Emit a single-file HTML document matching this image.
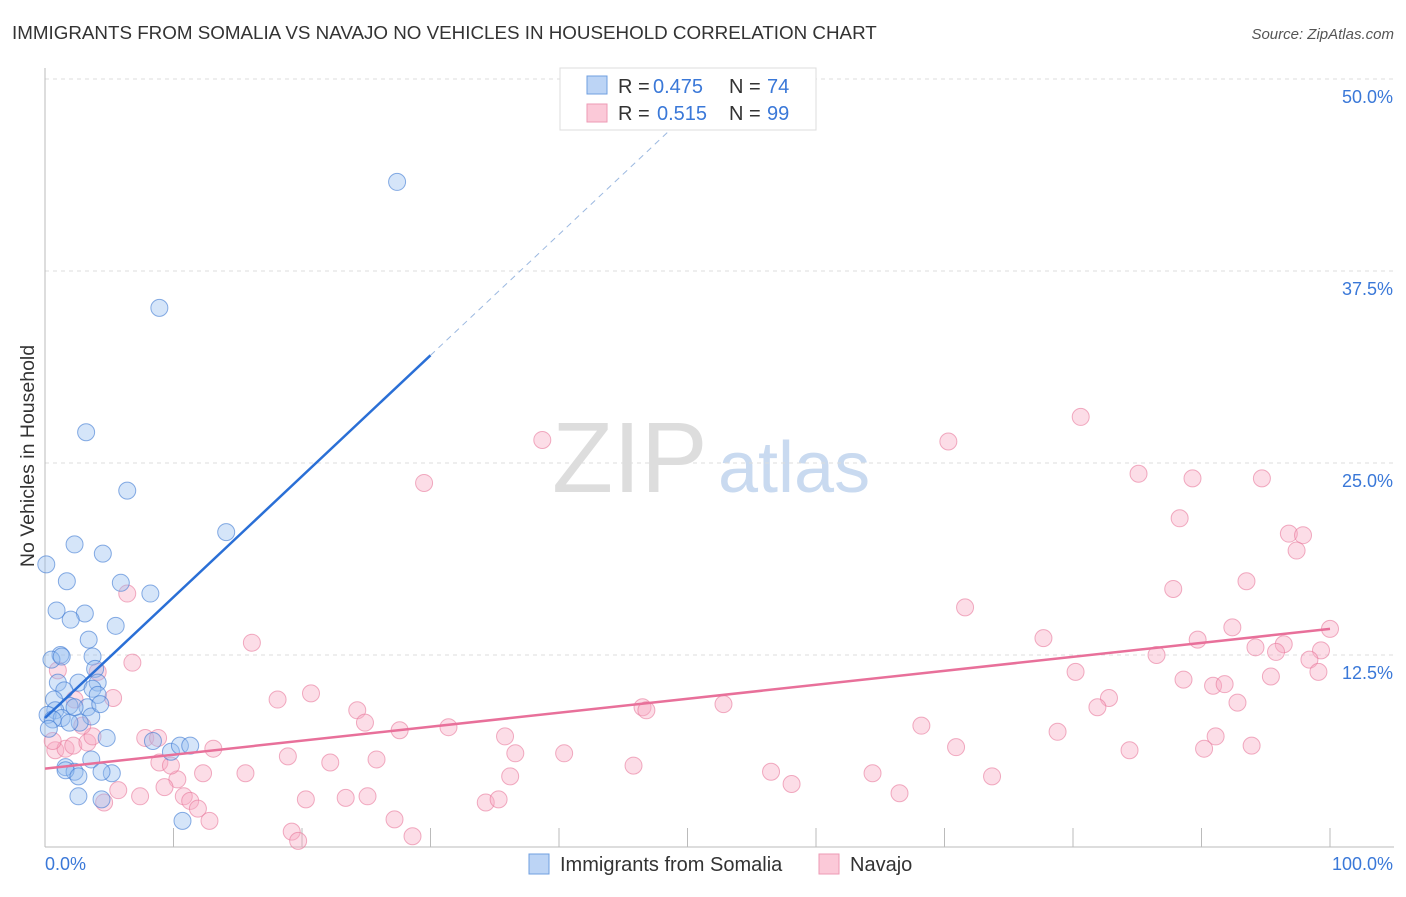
<!DOCTYPE html>
<html><head><meta charset="utf-8"><style>
body{margin:0;background:#fff;font-family:"Liberation Sans",sans-serif;}
svg text{font-family:"Liberation Sans",sans-serif;}
</style></head><body>
<svg id="c" width="1406" height="892" xmlns="http://www.w3.org/2000/svg">
<text x="12" y="39" font-size="18.8" fill="#333">IMMIGRANTS FROM SOMALIA VS NAVAJO NO VEHICLES IN HOUSEHOLD CORRELATION CHART</text>
<text x="1394" y="39" font-size="15" fill="#555" text-anchor="end" font-style="italic">Source: ZipAtlas.com</text>
<text x="34" y="456" font-size="19.5" fill="#333" text-anchor="middle" transform="rotate(-90 34 456)">No Vehicles in Household</text>
<g><text x="552" y="492" font-size="100" fill="#ddd" font-family="Liberation Serif">ZIP</text><text x="718" y="492" font-size="72" fill="#c9daf0">atlas</text></g>
<g id="grid"></g><g id="pts"></g><g id="lines"></g>
<g>
<rect x="560" y="68" width="256" height="62" fill="#fff" stroke="#ddd"/>
<rect x="587" y="76" width="20" height="18" fill="#bcd4f5" stroke="#6f9fe0"/>
<rect x="587" y="104" width="20" height="18" fill="#fbc9d8" stroke="#ee9ab5"/>
<text x="618" y="93" font-size="20" fill="#333">R =</text><text x="653" y="93" font-size="20" fill="#3a78d8">0.475</text>
<text x="729" y="93" font-size="20" fill="#333">N =</text><text x="767" y="93" font-size="20" fill="#3a78d8">74</text>
<text x="618" y="120" font-size="20" fill="#333">R =</text><text x="657" y="120" font-size="20" fill="#3a78d8">0.515</text>
<text x="729" y="120" font-size="20" fill="#333">N =</text><text x="767" y="120" font-size="20" fill="#3a78d8">99</text>
</g>
<g>
<rect x="529" y="854" width="20" height="20" fill="#bcd4f5" stroke="#6f9fe0"/>
<text x="560" y="871" font-size="20" fill="#333">Immigrants from Somalia</text>
<rect x="819" y="854" width="20" height="20" fill="#fbc9d8" stroke="#ee9ab5"/>
<text x="850" y="871" font-size="20" fill="#333">Navajo</text>
</g>
</svg>
<script>
const yTicks=[12.5,25,37.5,50];
const xTickVals=[0,10,20,30,40,50,60,70,80,90,100];
const blueX=[27.4,8.9,3.2,6.4,14.1,2.3,4.5,0.1,1.7,5.9,8.2,0.9,3.1,2.0,5.5,3.4,1.2,0.5,1.3,3.7,3.9,1.0,2.6,4.1,1.5,3.7,4.1,0.7,1.9,3.3,0.8,0.2,1.3,3.6,2.7,0.6,1.9,0.3,4.8,3.6,1.6,2.3,1.6,2.6,5.2,4.4,8.4,9.8,10.5,11.3,2.6,4.4,10.7,2.3,4.3];
const blueY=[43.3,35.1,27.0,23.2,20.5,19.7,19.1,18.4,17.3,17.2,16.5,15.4,15.2,14.8,14.4,13.5,12.5,12.2,12.4,12.4,11.6,10.7,10.7,10.7,10.2,10.3,9.9,9.6,9.2,9.1,8.9,8.6,8.4,8.5,8.1,8.3,8.1,7.7,7.1,5.7,5.2,4.9,5.0,4.6,4.8,4.9,6.9,6.2,6.6,6.6,3.3,3.1,1.7,9.1,9.3];
const pinkX=[80.6,70.3,38.7,29.5,85.1,89.3,94.7,88.3,96.8,97.9,97.4,93.5,87.8,71.6,6.4,92.4,100,77.7,89.7,16.1,94.2,96.4,86.5,95.8,99.3,98.4,6.8,80.2,95.4,99.1,88.6,90.9,91.8,20.7,18.1,5.3,82.8,92.8,81.9,52.8,46.5,46.8,24.3,24.9,68.2,31.4,27.6,78.8,35.8,91.1,7.8,8.8,13.1,70.9,93.9,90.2,84.4,40.4,36.6,18.9,25.8,22.2,45.8,12.3,15.6,36.2,56.5,64.4,73.7,58.1,10.3,9.3,5.7,7.4,10.8,11.3,11.9,12.8,4.6,23.4,25.1,20.3,34.3,35.3,66.5,27.2,28.6,19.2,19.7,0.8,1.6,2.2,3.3,3.7,2.9,1.0,2.3,4.1,0.6,8.9,9.8];
const pinkY=[28.0,26.4,26.5,23.7,24.3,24.0,24.0,21.4,20.4,20.3,19.3,17.3,16.8,15.6,16.5,14.3,14.2,13.6,13.5,13.3,13.0,13.2,12.5,12.7,12.8,12.2,12.0,11.4,11.1,11.4,10.9,10.5,10.6,10.0,9.6,9.7,9.7,9.4,9.1,9.3,9.1,8.9,8.9,8.1,7.9,7.8,7.6,7.5,7.2,7.2,7.1,7.1,6.4,6.5,6.6,6.4,6.3,6.1,6.1,5.9,5.7,5.5,5.3,4.8,4.8,4.6,4.9,4.8,4.6,4.1,4.4,3.9,3.7,3.3,3.3,3.0,2.5,1.7,2.9,3.2,3.3,3.1,2.9,3.1,3.5,1.8,0.7,1.0,0.4,6.3,6.4,6.6,6.8,7.2,7.9,11.5,9.6,11.4,6.9,5.5,5.3];
const blueLine=[8.4,0.787]; // intercept, slope
const pinkLine=[5.1,0.091];
const sx=v=>45+v*12.85, sy=v=>847-v*15.36;
const NS="http://www.w3.org/2000/svg";
function mk(t,a,p){const e=document.createElementNS(NS,t);for(const k in a)e.setAttribute(k,a[k]);p.appendChild(e);return e;}
const grid=document.getElementById('grid');
yTicks.forEach(v=>{
 const l=mk('line',{x1:45,x2:1394,y1:sy(v),y2:sy(v),stroke:'#ddd','stroke-dasharray':'4,4'},grid);
 
 
 const t=mk('text',{x:1393,y:sy(v)+24,'font-size':18,fill:'#3a78d8','text-anchor':'end'},grid);t.textContent=v.toFixed(1)+'%';
 
 
});
mk('line',{x1:45,x2:45,y1:68,y2:847,stroke:'#bbb'},grid);
mk('line',{x1:45,x2:1394,y1:847,y2:847,stroke:'#bbb'},grid);
xTickVals.forEach(v=>{const l=mk('line',{x1:sx(v),x2:sx(v),y1:828,y2:847,stroke:'#bbb'},grid);
 
 });
let t=mk('text',{x:45,y:870,'font-size':18,fill:'#3a78d8'},grid);t.textContent='0.0%';

t=mk('text',{x:1393,y:870,'font-size':18,fill:'#3a78d8','text-anchor':'end'},grid);t.textContent='100.0%';

const pts=document.getElementById('pts');
pinkX.forEach((x,i)=>{const c=mk('circle',{cx:sx(x),cy:sy(pinkY[i]),r:8.5,fill:'rgba(248,170,195,0.4)',stroke:'rgba(232,120,155,0.6)'},pts);
 
 });
blueX.forEach((x,i)=>{const c=mk('circle',{cx:sx(x),cy:sy(blueY[i]),r:8.5,fill:'rgba(150,190,240,0.4)',stroke:'rgba(60,120,210,0.6)'},pts);
 
 });
const lines=document.getElementById('lines');
let l=mk('line',{x1:sx(0),y1:sy(blueLine[0]),x2:sx(30),y2:sy(blueLine[0]+30*blueLine[1]),stroke:'#2a6fd6','stroke-width':2.5},lines);


l=mk('line',{x1:sx(30),y1:sy(blueLine[0]+30*blueLine[1]),x2:sx(52),y2:sy(blueLine[0]+52*blueLine[1]),stroke:'#9bb8e0','stroke-width':1,'stroke-dasharray':'6,5'},lines);


l=mk('line',{x1:sx(0),y1:sy(pinkLine[0]),x2:sx(100),y2:sy(pinkLine[0]+100*pinkLine[1]),stroke:'#e8709a','stroke-width':2.5},lines);


</script>
</body></html>
